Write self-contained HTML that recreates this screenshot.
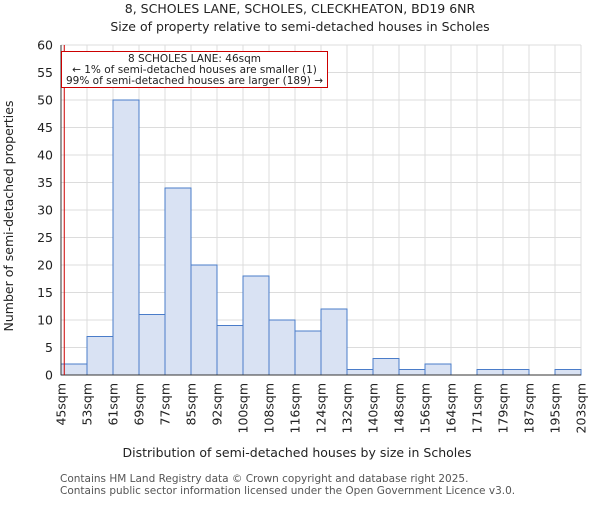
<!DOCTYPE html>
<html><head><meta charset="utf-8"><style>body{margin:0;background:#fff}svg text{font-family:"DejaVu Sans","Liberation Sans",sans-serif;fill:#222}</style></head>
<body>
<svg id="c" width="600" height="500">
<text x="300" y="13" font-size="12.5" text-anchor="middle">8, SCHOLES LANE, SCHOLES, CLECKHEATON, BD19 6NR</text>
<text x="300" y="31" font-size="12.5" text-anchor="middle">Size of property relative to semi-detached houses in Scholes</text>
<text x="297" y="457" font-size="12.5" text-anchor="middle">Distribution of semi-detached houses by size in Scholes</text>
<text transform="translate(13,216) rotate(-90)" font-size="12.5" text-anchor="middle">Number of semi-detached properties</text>
<text x="60" y="482" font-size="10.5" style="fill:#555">Contains HM Land Registry data © Crown copyright and database right 2025.</text>
<text x="60" y="494" font-size="10.5" style="fill:#555">Contains public sector information licensed under the Open Government Licence v3.0.</text>
<g id="g"></g>
</svg>
<script>
const binLabels=["45sqm","53sqm","61sqm","69sqm","77sqm","85sqm","92sqm","100sqm","108sqm","116sqm","124sqm","132sqm","140sqm","148sqm","156sqm","164sqm","171sqm","179sqm","187sqm","195sqm","203sqm"];
const counts=[2,7,50,11,34,20,9,18,10,8,12,1,3,1,2,0,1,1,0,1];
const yTicks=[0,5,10,15,20,25,30,35,40,45,50,55,60];
const markerPos=0.125;
const X0=61,X1=581,Y0=375,Y1=45,YMAX=60;
const n=counts.length;
const xs=i=>X0+(X1-X0)*i/n;
const ys=v=>Y0-(Y0-Y1)*v/YMAX;
const g=document.getElementById('g');
const NS='http://www.w3.org/2000/svg';
function mk(t,a){const e=document.createElementNS(NS,t);for(const k in a)e.setAttribute(k,a[k]);g.appendChild(e);return e;}
for(const t of yTicks){const l=mk('line',{x1:X0,x2:X1,y1:ys(t),y2:ys(t),stroke:'#dcdcdc'});


const tx=mk('text',{x:X0-8,y:ys(t)+4.5,'font-size':12.5,'text-anchor':'end'});tx.textContent=t;

}
for(let i=0;i<=n;i++){const l=mk('line',{x1:xs(i),x2:xs(i),y1:Y1,y2:Y0,stroke:'#dcdcdc'});


const tx=mk('text',{transform:`translate(${xs(i)+4.5},${Y0+8}) rotate(-90)`,'font-size':12.5,'text-anchor':'end'});tx.textContent=binLabels[i];

}
counts.forEach((v,i)=>{if(v<=0)return;const r=mk('rect',{x:xs(i),y:ys(v),width:xs(i+1)-xs(i),height:Y0-ys(v),fill:'#d9e2f3',stroke:'#4a7cc9','stroke-width':1});

});
const ax=mk('line',{x1:X0,x2:X1,y1:Y0,y2:Y0,stroke:'#333'});


const ay=mk('line',{x1:X0,x2:X0,y1:Y1,y2:Y0,stroke:'#333'});


const mxp=X0+(X1-X0)/n*markerPos;
const ml=mk('line',{x1:mxp,x2:mxp,y1:Y1,y2:Y0,stroke:'#cc0000','stroke-width':1});


const box=mk('rect',{x:61.5,y:51.5,width:266,height:36,fill:'#fff',stroke:'#cc0000'});


["8 SCHOLES LANE: 46sqm","← 1% of semi-detached houses are smaller (1)","99% of semi-detached houses are larger (189) →"].forEach((s,i)=>{const t=mk('text',{x:194.5,y:62+i*11,'font-size':10.5,'text-anchor':'middle'});t.textContent=s;

});
</script>
</body></html>
